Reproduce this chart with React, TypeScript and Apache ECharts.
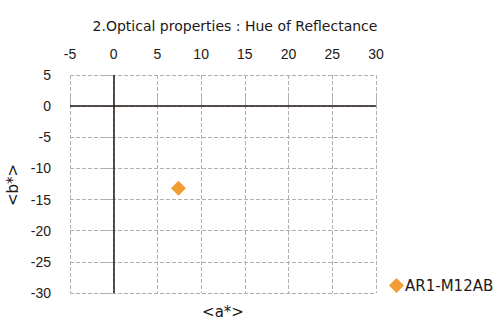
import React, { useEffect, useRef } from "react";
import * as echarts from "echarts";

const seriesName = "AR1-M12AB";
const points: [number, number][] = [[7.4, -13.2]];
const xRange = { min: -5, max: 30, interval: 5 };
const yRange = { min: -30, max: 5, interval: 5 };
const titleText = "2.Optical properties : Hue of Reflectance";
const xName = "<a*>";
const yName = "<b*>";

const TXT = "#231815";
const FONT = "'Liberation Sans', Arial, sans-serif";
const WIDE = "'DejaVu Sans', sans-serif";

export default function App() {
  const ref = useRef<HTMLDivElement>(null);
  useEffect(() => {
    if (!ref.current) return;
    const chart = echarts.init(ref.current, undefined, { renderer: "svg" });
    const dashed = { color: "#b0b0b0", width: 1, type: [4, 2] as any };
    chart.setOption({
      animation: false,
      textStyle: { fontFamily: FONT, color: TXT },
      title: {
        text: titleText,
        left: 230,
        top: 14,
        textAlign: "center",
        textStyle: { fontSize: 14, fontWeight: "normal", color: TXT, fontFamily: WIDE },
      },
      grid: { left: 70, top: 75, width: 306, height: 218, containLabel: false },
      xAxis: {
        type: "value",
        position: "top",
        min: xRange.min,
        max: xRange.max,
        interval: xRange.interval,
        axisLine: { show: false },
        axisTick: { show: true, length: 10, lineStyle: dashed },
        axisLabel: { fontSize: 14, color: TXT, margin: 14, fontFamily: FONT },
        splitLine: { show: true, lineStyle: dashed },
      },
      yAxis: {
        type: "value",
        min: yRange.min,
        max: yRange.max,
        interval: yRange.interval,
        axisLine: { show: false },
        axisTick: { show: true, length: 10, lineStyle: dashed },
        axisLabel: { fontSize: 14, color: TXT, margin: 19, fontFamily: FONT },
        splitLine: { show: true, lineStyle: dashed },
      },
      legend: {
        left: 384,
        top: 273,
        itemWidth: 15,
        itemHeight: 15,
        itemGap: 4,
        icon: "diamond",
        textStyle: { fontSize: 15, color: TXT, fontFamily: WIDE, padding: [0, 0, 0, -4] },
        data: [seriesName],
      },
      graphic: [
        {
          type: "text",
          x: 223,
          y: 312,
          style: {
            text: xName,
            fontSize: 15,
            fill: TXT,
            fontFamily: WIDE,
            align: "center",
            verticalAlign: "middle",
          },
        },
        {
          type: "text",
          x: 13,
          y: 185,
          rotation: Math.PI / 2,
          style: {
            text: yName,
            fontSize: 15,
            fill: TXT,
            fontFamily: WIDE,
            align: "center",
            verticalAlign: "middle",
          },
        },
      ],
      series: [
        {
          name: seriesName,
          type: "scatter",
          symbol: "diamond",
          symbolSize: 15,
          itemStyle: { color: "#F08300" },
          data: points,
          markLine: {
            silent: true,
            symbol: "none",
            label: { show: false },
            lineStyle: { color: TXT, width: 1.5, type: "solid" },
            data: [{ xAxis: 0 }, { yAxis: 0 }],
          },
        },
      ],
    });
    return () => chart.dispose();
  }, []);
  return <div ref={ref} style={{ width: 500, height: 325, position: "absolute", left: 0, top: 0 }} />;
}
